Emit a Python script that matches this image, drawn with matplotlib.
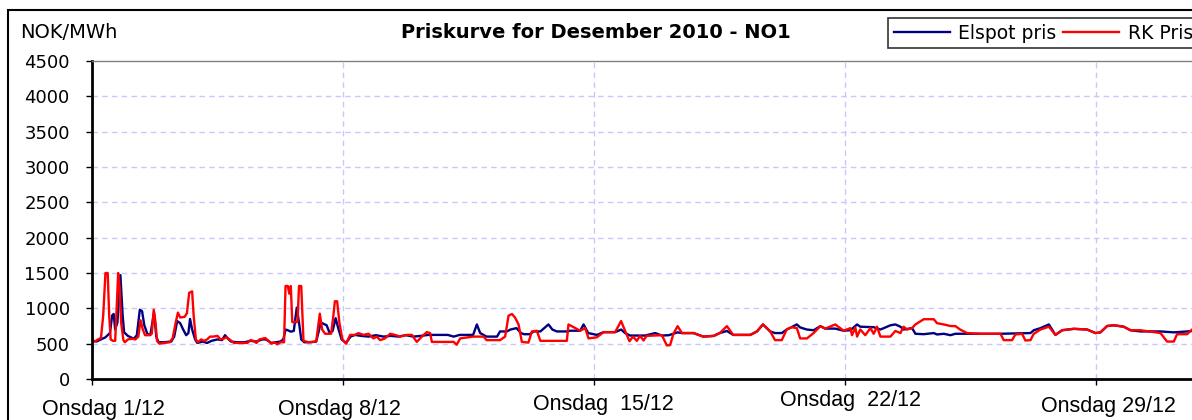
import matplotlib
matplotlib.use("Agg")
import matplotlib.pyplot as plt
from matplotlib.patches import Rectangle

# hours from 1 Dec 00:00, values in NOK/MWh
elspot_hours = [0, 3, 6, 9, 12, 13.5, 14.5, 15.5, 17, 19, 20.5, 21.5, 24, 28, 30, 32, 33.5, 35, 37, 39,
                41.5, 43, 44.5, 48, 53, 55, 57, 59, 61, 63, 64.5, 65.6, 67, 69, 70.5, 74, 77, 80, 84, 87,
                89, 91, 93, 97, 102, 106, 110, 114, 116, 118, 120, 123, 126, 128, 129.5, 131, 133, 135, 137, 138.5,
                140, 142, 146, 150, 152, 153, 155, 157, 159, 161, 163, 165, 167, 170, 173, 176, 180, 185, 190, 195,
                200, 205, 210, 215, 220, 225, 230, 238, 242, 246, 255, 257.5, 259.7, 264, 271, 273, 277.6, 280, 284, 287,
                289, 293, 295.4, 300, 305.4, 308, 311, 317.7, 320, 326.6, 328.9, 332, 337.8, 342.3, 350, 354, 356.7, 360, 370, 376.8,
                381.3, 386, 391.8, 394.7, 402.5, 409, 416, 420, 424.8, 429, 440.4, 444.9, 448.9, 453.8, 457, 461.5, 464.8, 468, 471.6, 473.8,
                478.3, 482.8, 487.3, 490.6, 497.3, 502.9, 507.4, 511.9, 514, 523, 527.5, 534.2, 537.5, 540.9, 543, 548.7, 550.9, 556.5, 563.2, 565.4,
                569.9, 574.3, 577.7, 594.4, 607.8, 627.9, 630.1, 634.6, 640.2, 644.6, 649.1, 656.9, 665.8, 671.4, 674.7, 679.2, 683.7, 690.3, 694.8, 701.5,
                714.9, 723.8, 732.7, 736, 744]
elspot_pris = [545, 530, 560, 590, 650, 900, 920, 700, 800, 1470, 900, 660, 610, 570, 620, 980, 960, 760, 640, 620,
               940, 600, 520, 520, 530, 600, 820, 790, 700, 620, 650, 850, 700, 560, 510, 530, 510, 540, 560, 550,
               620, 570, 530, 520, 520, 540, 530, 560, 560, 540, 510, 520, 530, 560, 700, 690, 670, 680, 1010, 800,
               560, 520, 520, 530, 700, 800, 780, 760, 650, 680, 860, 700, 560, 510, 600, 624, 610, 600, 620, 600,
               610, 600, 620, 600, 610, 624, 624, 624, 600, 624, 624, 772, 650, 600, 600, 673, 673, 700, 720, 650,
               634, 634, 673, 673, 772, 700, 673, 673, 683, 683, 772, 650, 624, 663, 663, 700, 650, 615, 615, 650,
               615, 620, 660, 650, 650, 600, 610, 650, 680, 624, 624, 673, 772, 673, 650, 650, 700, 733, 772, 730,
               700, 690, 748, 713, 713, 683, 690, 772, 740, 733, 700, 760, 772, 740, 700, 720, 640, 634, 650, 630,
               640, 620, 640, 640, 640, 650, 690, 720, 772, 624, 690, 710, 700, 650, 660, 750, 760, 740, 690, 673,
               673, 660, 673, 680, 690]

rk_hours = [0, 2, 4, 6, 7.5, 9, 10.5, 11.5, 12.5, 14, 15.5, 16.5, 17.5, 18.5, 19.5, 21, 22, 24, 27, 29,
            31, 32.5, 34, 35.5, 38, 40, 41.3, 42.5, 43.5, 45, 48, 52, 54, 56, 57.5, 59, 62, 63.5, 65, 67,
            68, 69.5, 71, 73, 75, 77, 79, 81, 84, 86, 88, 90, 92, 95, 100, 104, 106, 108, 110, 112,
            116, 118, 120, 122, 124, 126, 128.5, 129.5, 131, 132, 133, 134, 137.5, 138.5, 140, 141.5, 145, 150, 152.4, 154,
            156, 160, 161.5, 162.5, 164, 165.5, 167.5, 170, 172.7, 176, 178.3, 181.6, 185, 188.3, 190.5, 192.8, 196, 199.5, 202.8, 206.2,
            210.6, 214, 217.3, 220.7, 224, 226.2, 227.4, 242, 244, 246.3, 255, 262, 264, 273, 276.4, 278.7, 281, 283, 285.4, 287.6,
            292, 294.3, 297.6, 300, 317.7, 318.8, 326.6, 330, 332.2, 337.8, 342.3, 350, 354, 356.7, 359.6, 362, 364.5, 366.7, 369, 371,
            376.8, 381.3, 384.6, 386.8, 389, 391.8, 394.7, 402.5, 409, 416, 420, 424.8, 429, 440.4, 444.9, 448.9, 453.8, 457, 461.5, 464.8,
            468, 471.6, 473.8, 478.3, 482.8, 487.3, 490.6, 497.3, 502.9, 507.4, 508.5, 510.7, 511.9, 514, 517.4, 520.8, 523, 525.2, 527.5, 534.2,
            537.5, 540.9, 543, 545.3, 548.7, 550.9, 556.5, 563.2, 565.4, 569.9, 574.3, 577.7, 581, 585.5, 594.4, 607.8, 610, 615.6, 617.8, 622.3,
            624.5, 627.9, 630.1, 634.6, 640.2, 644.6, 649.1, 656.9, 665.8, 671.4, 674.7, 679.2, 683.7, 690.3, 694.8, 701.5, 714.9, 719.3, 723.8, 726,
            732.7, 736, 744]
rk_pris = [550, 530, 560, 580, 900, 1500, 1500, 900, 560, 540, 540, 1000, 1500, 1300, 800, 550, 520, 560, 570, 560,
           600, 830, 700, 620, 620, 640, 980, 800, 540, 500, 510, 520, 580, 800, 940, 870, 880, 930, 1220, 1240,
           900, 560, 520, 560, 540, 560, 600, 600, 610, 560, 570, 590, 560, 510, 510, 510, 550, 540, 510, 560,
           580, 540, 500, 520, 490, 520, 520, 1316, 1316, 1207, 1316, 806, 806, 1316, 1316, 540, 520, 530, 925, 700,
           640, 640, 900, 1100, 1100, 800, 560, 500, 624, 624, 650, 624, 640, 574, 600, 550, 574, 640, 624, 600,
           624, 624, 525, 600, 663, 650, 525, 525, 485, 574, 600, 600, 550, 550, 600, 896, 920, 870, 772, 525,
           515, 673, 683, 540, 540, 772, 683, 720, 574, 590, 663, 663, 820, 680, 535, 600, 540, 610, 545, 610,
           615, 620, 475, 480, 640, 748, 650, 650, 600, 610, 650, 748, 624, 624, 673, 772, 673, 550, 550, 700,
           733, 720, 574, 574, 650, 748, 713, 772, 683, 720, 620, 730, 600, 700, 620, 720, 640, 740, 600, 600,
           680, 650, 740, 700, 720, 772, 846, 846, 790, 772, 750, 748, 698, 650, 640, 640, 550, 550, 630, 640,
           545, 550, 640, 700, 740, 624, 690, 710, 700, 650, 660, 750, 760, 740, 690, 690, 650, 530, 530, 634,
           634, 700, 710]

week_ticks = [0, 168, 336, 504, 672]
week_labels = ["Onsdag 1/12", "Onsdag 8/12", "Onsdag  15/12", "Onsdag  22/12", "Onsdag 29/12"]
y_ticks = list(range(0, 4501, 500))

W, H = 1192, 420
fig = plt.figure(figsize=(W / 100, H / 100), dpi=100)
plt.rcParams['font.family'] = ['DejaVu Sans']

# outer chart frame (runs past the right and bottom edges)
fig.patches.append(Rectangle((8 / W, -0.1), 1.2, 1 - 10 / H + 0.1, transform=fig.transFigure,
                             fill=False, edgecolor='black', linewidth=1.5))

ax = fig.add_axes([92 / W, 1 - 379 / H, (1204 - 92) / W, (379 - 61) / H])
ax.plot(elspot_hours, elspot_pris, color='#000080', linewidth=1.7, label='Elspot pris')
ax.plot(rk_hours, rk_pris, color='#ff0000', linewidth=1.7, label='RK Pris')

ax.set_xlim(0, 744)
ax.set_ylim(0, 4500)
ax.set_yticks(y_ticks)
ax.set_yticklabels([str(v) for v in y_ticks], fontsize=13)
ax.set_xticks(week_ticks)
ax.set_xticklabels([])
ax.tick_params(axis='y', direction='out', length=4, width=1, pad=12)
ax.tick_params(axis='x', direction='out', length=4.5, width=1)

for v in y_ticks[1:-1]:
    ax.axhline(v, color='#c8c8ff', linestyle=(0, (4, 3)), linewidth=1, zorder=0)
for t in week_ticks[1:]:
    ax.axvline(t, color='#c8c8ff', linestyle=(0, (4, 3)), linewidth=1, zorder=0)

ax.spines['left'].set_linewidth(2)
ax.spines['bottom'].set_linewidth(2)
ax.spines['top'].set_color('#808080')
ax.spines['top'].set_linewidth(1)
ax.spines['right'].set_color('#808080')

# x labels sit a little unevenly in the original
label_dx = [7.5, -2.5, 6, 3.5, 8]
label_y = [-0.097, -0.097, -0.079, -0.069, -0.085]
for t, lab, dx, yy in zip(week_ticks, week_labels, label_dx, label_y):
    ax.text(t + dx, yy, lab, transform=ax.get_xaxis_transform(), ha='center', va='center',
            fontsize=15.5, family=['Liberation Sans Narrow', 'Liberation Sans'], clip_on=False)

fig.text(596 / W, 1 - 33 / H, "Priskurve for Desember 2010 - NO1", ha='center', va='center',
         fontsize=14, fontweight='bold')
fig.text(20 / W, 1 - 33 / H, "NOK/MWh", ha='left', va='center', fontsize=14)

leg = fig.legend(loc='upper left', bbox_to_anchor=(888 / W, 1 - 18 / H), ncol=2, fontsize=13.5,
                 frameon=True, fancybox=False, handlelength=3.0, columnspacing=0.35,
                 handletextpad=0.45, borderpad=0.3, borderaxespad=0)
leg.get_frame().set_edgecolor('black')
leg.get_frame().set_linewidth(1.2)

fig.savefig("out.png", dpi=100)
